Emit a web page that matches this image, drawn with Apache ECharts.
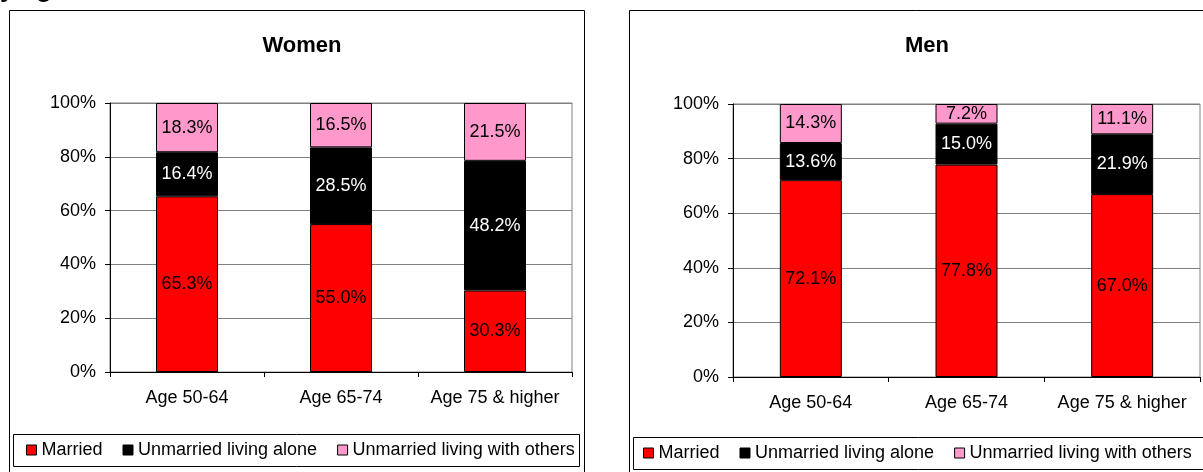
<!DOCTYPE html>
<html>
<head>
<meta charset="utf-8">
<script src="https://cdn.jsdelivr.net/npm/echarts@6/dist/echarts.min.js"></script>
<style>
  html, body { margin: 0; padding: 0; background: #fff; }
  #chart { width: 1203px; height: 472px; }
</style>
</head>
<body>
<div id="chart"></div>
<script>
// categories and values
const ageGroups = ['Age 50-64', 'Age 65-74', 'Age 75 & higher'];
const seriesNames = ['Married', 'Unmarried living alone', 'Unmarried living with others'];
const yTicks = [0, 20, 40, 60, 80, 100];

const womenMarried = [65.3, 55.0, 30.3];
const womenAlone = [16.4, 28.5, 48.2];
const womenOthers = [18.3, 16.5, 21.5];

const menMarried = [72.1, 77.8, 67.0];
const menAlone = [13.6, 15.0, 21.9];
const menOthers = [14.3, 7.2, 11.1];

const colors = ['#ff0000', '#000000', '#ff99cc'];
const labelColors = ['#000', '#fff', '#000'];
const font = '"Liberation Sans", Arial, sans-serif';

function makeSeries(values, idx, gridIdx) {
  return {
    name: seriesNames[idx],
    type: 'bar',
    stack: 'g' + gridIdx,
    xAxisIndex: gridIdx,
    yAxisIndex: gridIdx,
    data: values,
    barWidth: 62,
    itemStyle: { color: colors[idx], borderColor: '#000', borderWidth: 1 },
    label: {
      show: true,
      position: 'inside',
      color: labelColors[idx],
      fontFamily: font,
      fontSize: 18,
      formatter: p => p.value.toFixed(1) + '%'
    }
  };
}

function makeX(gridIdx) {
  return {
    type: 'category',
    gridIndex: gridIdx,
    data: ageGroups,
    axisLine: { lineStyle: { color: '#000', width: 1 } },
    axisTick: { show: true, length: 5, lineStyle: { color: '#000' } },
    axisLabel: { interval: 0, color: '#000', fontFamily: font, fontSize: 18, margin: 17 }
  };
}

function makeY(gridIdx) {
  return {
    type: 'value',
    gridIndex: gridIdx,
    min: yTicks[0],
    max: yTicks[yTicks.length - 1],
    interval: yTicks[1] - yTicks[0],
    axisLine: { show: true, lineStyle: { color: '#000', width: 1 } },
    axisTick: { show: true, length: 5, lineStyle: { color: '#000' } },
    axisLabel: { color: '#000', fontFamily: font, fontSize: 18, margin: 14, formatter: '{value}%' },
    splitLine: { lineStyle: { color: '#808080', width: 1 } }
  };
}

function makeLegend(left, top) {
  return {
    data: seriesNames.map((n, i) => ({
      name: n,
      itemStyle: { color: colors[i], borderColor: '#000', borderWidth: 1 }
    })),
    left: left,
    top: top,
    padding: 0,
    icon: 'rect',
    itemWidth: 10,
    itemHeight: 10,
    itemGap: 20,
    selectedMode: false,
    textStyle: { color: '#000', fontFamily: font, fontSize: 18 }
  };
}

const option = {
  animation: false,
  backgroundColor: '#fff',
  title: [
    { text: 'Women', left: 297, top: 30, textAlign: 'center',
      textStyle: { fontFamily: font, fontSize: 22, fontWeight: 'bold', color: '#000' } },
    { text: 'Men', left: 922, top: 30, textAlign: 'center',
      textStyle: { fontFamily: font, fontSize: 22, fontWeight: 'bold', color: '#000' } },
    { text: 'by age', left: -16, top: -23, padding: 0,
      textStyle: { fontFamily: font, fontSize: 26, fontWeight: 'bold', color: '#000' } }
  ],
  graphic: [
    { type: 'rect', shape: { x: 9.5, y: 10.5, width: 575, height: 470 },
      style: { fill: 'none', stroke: '#000', lineWidth: 1 }, z: -1 },
    { type: 'rect', shape: { x: 629.5, y: 10.5, width: 600, height: 470 },
      style: { fill: 'none', stroke: '#000', lineWidth: 1 }, z: -1 },
    { type: 'rect', shape: { x: 13.5, y: 434.5, width: 566, height: 32 },
      style: { fill: 'none', stroke: '#000', lineWidth: 1 }, z: -1 },
    { type: 'rect', shape: { x: 633.5, y: 437.5, width: 600, height: 32 },
      style: { fill: 'none', stroke: '#000', lineWidth: 1 }, z: -1 }
  ],
  legend: [makeLegend(26, 441), makeLegend(643, 444)],
  grid: [
    { left: 110, top: 103, width: 462, height: 269, show: true, borderColor: '#808080', borderWidth: 1 },
    { left: 733, top: 104, width: 467, height: 273, show: true, borderColor: '#808080', borderWidth: 1 }
  ],
  xAxis: [makeX(0), makeX(1)],
  yAxis: [makeY(0), makeY(1)],
  series: [
    makeSeries(womenMarried, 0, 0),
    makeSeries(womenAlone, 1, 0),
    makeSeries(womenOthers, 2, 0),
    makeSeries(menMarried, 0, 1),
    makeSeries(menAlone, 1, 1),
    makeSeries(menOthers, 2, 1)
  ]
};

const myChart = echarts.init(document.getElementById('chart'));
myChart.setOption(option);
window.addEventListener('resize', function () {
  myChart.resize();
});
</script>
</body>
</html>
